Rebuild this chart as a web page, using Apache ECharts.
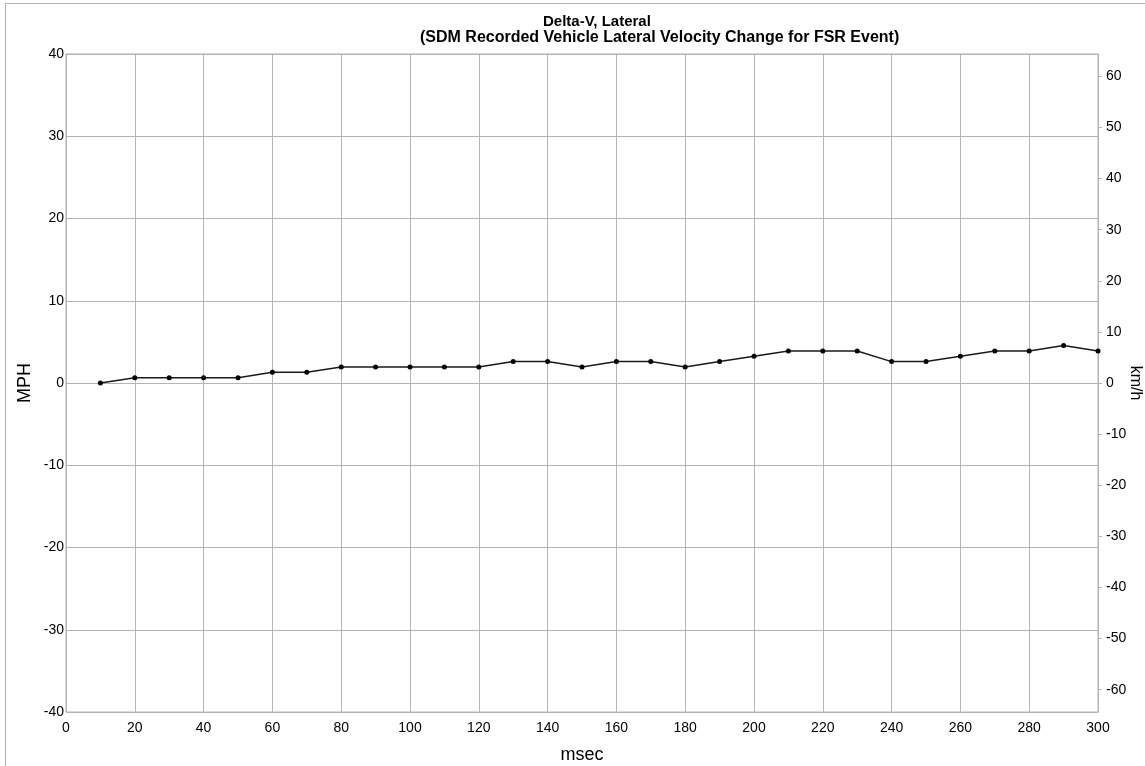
<!DOCTYPE html>
<html>
<head>
<meta charset="utf-8">
<style>html,body{margin:0;padding:0;background:#fff;}#c{width:1145px;height:766px;}</style>
<script src="https://cdn.jsdelivr.net/npm/echarts@6/dist/echarts.min.js"></script>
</head>
<body>
<div id="c"></div>
<script>
// Data (MPH)
const msec = [10,20,30,40,50,60,70,80,90,100,110,120,130,140,150,160,170,180,190,200,210,220,230,240,250,260,270,280,290,300];
const deltaVMph = [0,0.65,0.65,0.65,0.65,1.3,1.3,1.95,1.95,1.95,1.95,1.95,2.6,2.6,1.95,2.6,2.6,1.95,2.6,3.25,3.9,3.9,3.9,2.6,2.6,3.25,3.9,3.9,4.55,3.9];
const mphTicks = [-40,-30,-20,-10,0,10,20,30,40];
const kmhTicks = [-60,-50,-40,-30,-20,-10,0,10,20,30,40,50,60];
const MPH_TO_KMH = 1.609344;
const titleLine1 = 'Delta-V, Lateral';
const titleLine2 = '(SDM Recorded Vehicle Lateral Velocity Change for FSR Event)';

const chart = echarts.init(document.getElementById('c'));
const font = '"Liberation Sans", Arial, sans-serif';
const gridColor = '#b4b4b4';
const points = msec.map((x, i) => [x, deltaVMph[i]]);

chart.setOption({
  animation: false,
  textStyle: { fontFamily: font },
  title: [
    { text: titleLine1, left: 543, top: 14, padding: 0, textStyle: { fontSize: 15, fontWeight: 'bold', color: '#000', fontFamily: font } },
    { text: titleLine2, left: 420, top: 30, padding: 0, textStyle: { fontSize: 16, fontWeight: 'bold', color: '#000', fontFamily: font } }
  ],
  graphic: [
    { type: 'line', shape: { x1: 5, y1: 3.5, x2: 1145, y2: 3.5 }, style: { stroke: '#b0b0b0', lineWidth: 1 } },
    { type: 'line', shape: { x1: 5.5, y1: 3, x2: 5.5, y2: 766 }, style: { stroke: '#b0b0b0', lineWidth: 1 } }
  ],
  grid: { left: 66, right: 47, top: 54, bottom: 54, show: true, borderColor: gridColor, borderWidth: 1, containLabel: false, outerBoundsMode: 'none' },
  xAxis: {
    type: 'value', min: 0, max: 300, interval: 20,
    name: 'msec', nameLocation: 'middle', nameGap: 34, nameMoveOverlap: false,
    nameTextStyle: { fontSize: 18, color: '#000', fontFamily: font },
    axisLine: { show: true, lineStyle: { color: gridColor } },
    axisTick: { show: false },
    axisLabel: { fontSize: 14, color: '#000', margin: 9, fontFamily: font },
    splitLine: { show: true, lineStyle: { color: gridColor, width: 1 } }
  },
  yAxis: [
    {
      type: 'value', min: -40, max: 40, interval: 10, position: 'left',
      name: 'MPH', nameLocation: 'middle', nameGap: 32, nameRotate: 90, nameMoveOverlap: false,
      nameTextStyle: { fontSize: 18, color: '#000', fontFamily: font },
      axisLine: { show: true, lineStyle: { color: gridColor } },
      axisTick: { show: false },
      axisLabel: { fontSize: 14, color: '#000', margin: 2, fontFamily: font },
      splitLine: { show: true, lineStyle: { color: gridColor, width: 1 } }
    },
    {
      type: 'value', min: -40 * MPH_TO_KMH, max: 40 * MPH_TO_KMH, position: 'right',
      name: 'km/h', nameLocation: 'middle', nameGap: 29, nameRotate: -90, nameMoveOverlap: false,
      nameTextStyle: { fontSize: 16, color: '#000', fontFamily: font },
      axisLine: { show: true, lineStyle: { color: gridColor } },
      axisTick: { show: true, length: 4, inside: false, lineStyle: { color: gridColor }, customValues: kmhTicks },
      axisLabel: { fontSize: 14, color: '#000', margin: 8, fontFamily: font, customValues: kmhTicks },
      splitLine: { show: false }
    }
  ],
  series: [{
    type: 'line',
    yAxisIndex: 0,
    data: points,
    symbol: 'circle',
    symbolSize: 5,
    lineStyle: { color: '#1a1a1a', width: 1.5 },
    itemStyle: { color: '#000' },
    clip: false
  }]
});
</script>
</body>
</html>
